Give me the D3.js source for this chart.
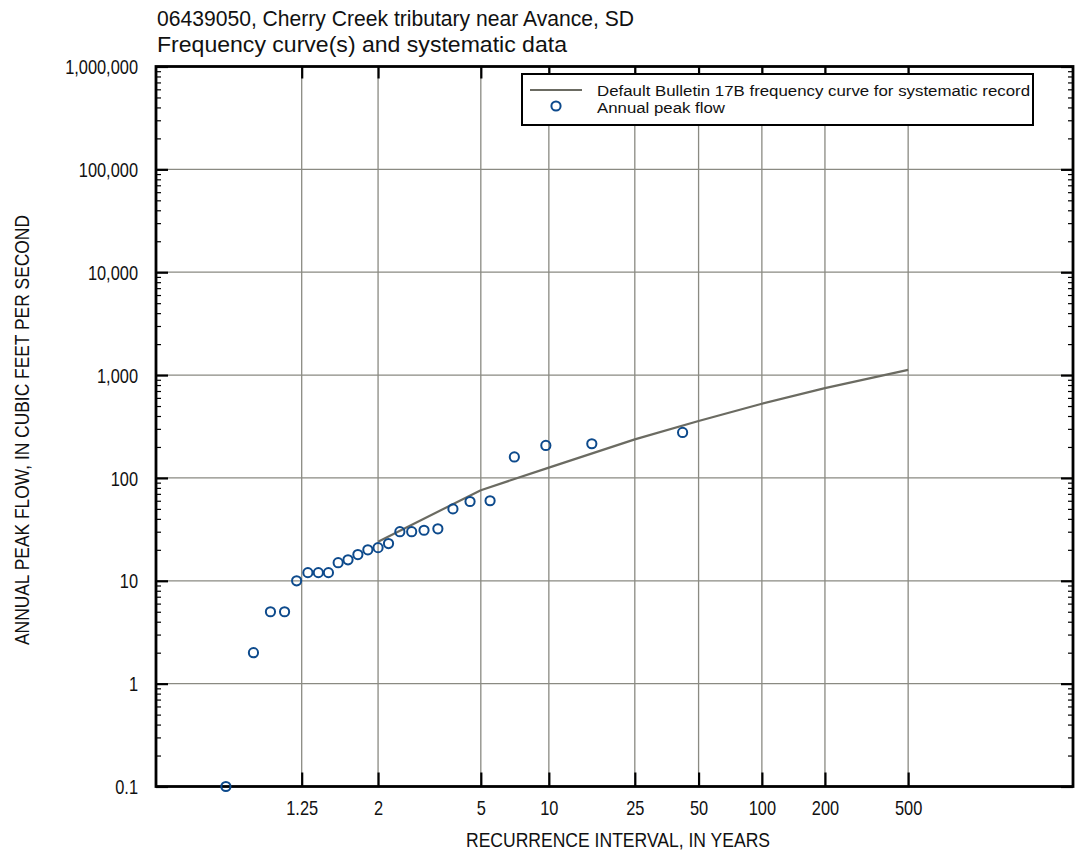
<!DOCTYPE html>
<html>
<head>
<meta charset="utf-8">
<script src="https://cdn.jsdelivr.net/npm/d3@7"></script>
<style>
  html, body { margin: 0; padding: 0; background: #fff; }
  svg { display: block; }
  text { font-family: "Liberation Sans", Arial, Helvetica, sans-serif; fill: #111; }
</style>
</head>
<body>
<svg id="chart" width="1079" height="855"></svg>
<script>
// ---- Data ----
const titleLines = ["06439050, Cherry Creek tributary near Avance, SD", "Frequency curve(s) and systematic data"];
const xTickValues = [1.25, 2, 5, 10, 25, 50, 100, 200, 500];   // recurrence interval, years
const xTickLabels = ["1.25", "2", "5", "10", "25", "50", "100", "200", "500"];
const yTickValues = [0.1, 1, 10, 100, 1000, 10000, 100000, 1000000];
const yTickLabels = ["0.1", "1", "10", "100", "1,000", "10,000", "100,000", "1,000,000"];

// Annual peak flows (cfs) and their plotted recurrence intervals (years)
const peakRecurrence = [42.0, 15.75, 9.69, 7.0, 5.48, 4.5, 3.82, 3.32, 2.93, 2.63, 2.38, 2.17, 2.0,
                        1.853, 1.726, 1.615, 1.517, 1.432, 1.355, 1.286, 1.223, 1.167, 1.115, 1.069, 1.025];
const peakFlow = [277, 215, 207, 160, 60, 59, 50, 32, 31, 30, 30, 23, 21,
                  20, 18, 16, 15, 12, 12, 12, 10, 5, 5, 2, 0.1];

// Bulletin 17B frequency curve (quantiles, joined by straight segments)
const curveRecurrence = [2, 5, 10, 25, 50, 100, 200, 500];
const curveFlow = [24, 76, 126, 237, 358, 526, 746, 1125];

const legendLabels = ["Default Bulletin 17B frequency curve for systematic record", "Annual peak flow"];
const xAxisTitle = "RECURRENCE INTERVAL, IN YEARS";
const yAxisTitle = "ANNUAL PEAK FLOW, IN CUBIC FEET PER SECOND";

// ---- Layout ----
const L = 156, R = 1073, T = 66.5, B = 786.5;
const gridColor = "#8a8a82", curveColor = "#6b6b62", pointColor = "#0d4a8c";
const condense = "scale(0.82,1)";
const fit = (sel, w) => sel.attr("textLength", w).attr("lengthAdjust", "spacingAndGlyphs");

// Gumbel reduced variate of non-exceedance probability for recurrence interval
const gumbel = t => -Math.log(-Math.log(1 - 1 / t));
const gx = d3.scaleLinear().domain([-2.083, 8.032]).range([L, R]);
const xPos = t => gx(gumbel(t));
const y = d3.scaleLog().domain([0.1, 1e6]).range([B, T]);

const svg = d3.select("#chart");

// Title
const titleWidths = [477, 410];
svg.selectAll("text.title").data(titleLines).join("text")
  .attr("class", "title")
  .attr("x", L + 1).attr("y", (d, i) => 26 + i * 25.5)
  .style("font-size", "21.5px")
  .text(d => d)
  .each(function(d, i) { fit(d3.select(this), titleWidths[i]); });

// Gridlines
const grid = svg.append("g");
grid.selectAll("line.vg").data(xTickValues).join("line")
  .attr("x1", d => xPos(d)).attr("x2", d => xPos(d))
  .attr("y1", T).attr("y2", B)
  .attr("stroke", gridColor).attr("stroke-width", 1.3);
grid.selectAll("line.hg").data(yTickValues.slice(1, -1)).join("line")
  .attr("x1", L).attr("x2", R)
  .attr("y1", d => y(d)).attr("y2", d => y(d))
  .attr("stroke", gridColor).attr("stroke-width", 1.3);

// Axes built from d3 axis generators
const yMinor = [];
for (let e = -1; e < 6; e++) for (let k = 2; k <= 9; k++) yMinor.push(k * Math.pow(10, e));

function styleAxis(g) {
  g.select(".domain").remove();
  g.selectAll(".tick line").attr("stroke", "#000");
}
// left
svg.append("g").attr("transform", `translate(${L},0)`)
  .call(d3.axisRight(y).tickValues(yMinor).tickSize(5).tickFormat(""))
  .call(styleAxis).selectAll(".tick line").attr("stroke-width", 1.2);
svg.append("g").attr("transform", `translate(${L},0)`)
  .call(d3.axisRight(y).tickValues(yTickValues).tickSize(12).tickFormat(""))
  .call(styleAxis).selectAll(".tick line").attr("stroke-width", 2.2);
// right
svg.append("g").attr("transform", `translate(${R},0)`)
  .call(d3.axisLeft(y).tickValues(yMinor).tickSize(5).tickFormat(""))
  .call(styleAxis).selectAll(".tick line").attr("stroke-width", 1.2);
svg.append("g").attr("transform", `translate(${R},0)`)
  .call(d3.axisLeft(y).tickValues(yTickValues).tickSize(12).tickFormat(""))
  .call(styleAxis).selectAll(".tick line").attr("stroke-width", 2.2);

// y labels
const yLab = svg.append("g").attr("transform", `translate(${L - 18},0)`)
  .call(d3.axisLeft(y).tickValues(yTickValues).tickSize(0).tickPadding(0)
    .tickFormat((d, i) => yTickLabels[i]));
yLab.select(".domain").remove();
yLab.selectAll("text").attr("fill", "#111")
  .style("font-size", "20px").style("font-family", '"Liberation Sans", Arial, sans-serif')
  .attr("dy", "0.36em").attr("transform", condense);

// bottom / top ticks
const xb = svg.append("g").attr("transform", `translate(0,${B})`)
  .call(d3.axisTop(gx).tickValues(xTickValues.map(gumbel)).tickSize(14).tickFormat(""));
styleAxis(xb); xb.selectAll(".tick line").attr("stroke-width", 2.2);
const xt = svg.append("g").attr("transform", `translate(0,${T})`)
  .call(d3.axisBottom(gx).tickValues(xTickValues.map(gumbel)).tickSize(12).tickFormat(""));
styleAxis(xt); xt.selectAll(".tick line").attr("stroke-width", 2.2);

const xLab = svg.append("g").attr("transform", `translate(0,${B})`)
  .call(d3.axisBottom(gx).tickValues(xTickValues.map(gumbel)).tickSize(0).tickPadding(0)
    .tickFormat((d, i) => xTickLabels[i]));
xLab.select(".domain").remove();
xLab.selectAll("text").attr("fill", "#111")
  .style("font-size", "20px").style("font-family", '"Liberation Sans", Arial, sans-serif')
  .attr("y", 29).attr("dy", 0).attr("transform", condense);

// Frame
svg.append("rect").attr("x", L).attr("y", T).attr("width", R - L).attr("height", B - T)
  .attr("fill", "none").attr("stroke", "#000").attr("stroke-width", 2.8);

// Frequency curve
const curveData = curveRecurrence.map((t, i) => [gumbel(t), curveFlow[i]]);
svg.append("path").datum(curveData)
  .attr("d", d3.line().x(d => gx(d[0])).y(d => y(d[1])))
  .attr("fill", "none").attr("stroke", curveColor).attr("stroke-width", 2.2)
  .attr("stroke-linejoin", "round");

// Points
svg.append("g").selectAll("circle").data(peakFlow).join("circle")
  .attr("cx", (d, i) => xPos(peakRecurrence[i])).attr("cy", d => y(d))
  .attr("r", 4.6).attr("fill", "none").attr("stroke", pointColor).attr("stroke-width", 2);

// Legend
const lg = svg.append("g");
lg.append("rect").attr("x", 522).attr("y", 74).attr("width", 511).attr("height", 51)
  .attr("fill", "#fff").attr("stroke", "#000").attr("stroke-width", 2);
lg.append("line").attr("x1", 530).attr("x2", 582).attr("y1", 90).attr("y2", 90)
  .attr("stroke", curveColor).attr("stroke-width", 2);
lg.append("circle").attr("cx", 556).attr("cy", 106).attr("r", 4.6)
  .attr("fill", "none").attr("stroke", pointColor).attr("stroke-width", 2);
const legendWidths = [433, 128];
lg.selectAll("text").data(legendLabels).join("text")
  .attr("x", 597).attr("y", (d, i) => 95.5 + i * 17.5)
  .style("font-size", "15.5px").text(d => d)
  .each(function(d, i) { fit(d3.select(this), legendWidths[i]); });

// Axis titles
svg.append("text").attr("x", 618).attr("y", 847).attr("text-anchor", "middle")
  .style("font-size", "21px").text(xAxisTitle).call(fit, 304);
svg.append("text").attr("transform", `translate(28.5,430) rotate(-90)`)
  .attr("text-anchor", "middle").style("font-size", "19.5px").text(yAxisTitle).call(fit, 430);
</script>
</body>
</html>
